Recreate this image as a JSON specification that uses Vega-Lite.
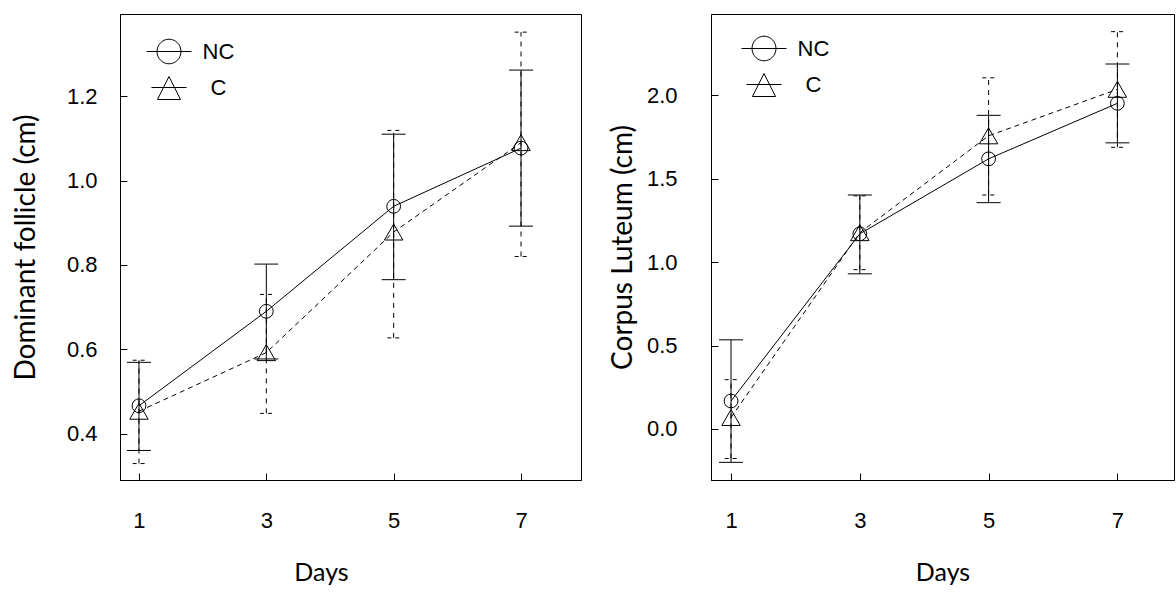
{
  "$schema": "https://vega.github.io/schema/vega-lite/v6.json",
  "background": "white",
  "padding": {"left": 11, "top": 13, "right": 0, "bottom": 0},
  "bounds": "flush",
  "spacing": 130,
  "datasets": {
    "follicle": [
      {"day": 1, "group": "NC", "mean": 0.466, "lo": 0.360, "hi": 0.569},
      {"day": 3, "group": "NC", "mean": 0.690, "lo": 0.577, "hi": 0.802},
      {"day": 5, "group": "NC", "mean": 0.939, "lo": 0.765, "hi": 1.110},
      {"day": 7, "group": "NC", "mean": 1.077, "lo": 0.892, "hi": 1.262},
      {"day": 1, "group": "C", "mean": 0.453, "lo": 0.329, "hi": 0.574},
      {"day": 3, "group": "C", "mean": 0.592, "lo": 0.448, "hi": 0.730},
      {"day": 5, "group": "C", "mean": 0.878, "lo": 0.627, "hi": 1.119},
      {"day": 7, "group": "C", "mean": 1.090, "lo": 0.820, "hi": 1.352}
    ],
    "luteum": [
      {"day": 1, "group": "NC", "mean": 0.167, "lo": -0.201, "hi": 0.534},
      {"day": 3, "group": "NC", "mean": 1.170, "lo": 0.930, "hi": 1.403},
      {"day": 5, "group": "NC", "mean": 1.620, "lo": 1.357, "hi": 1.881},
      {"day": 7, "group": "NC", "mean": 1.953, "lo": 1.716, "hi": 2.189},
      {"day": 1, "group": "C", "mean": 0.068, "lo": -0.178, "hi": 0.295},
      {"day": 3, "group": "C", "mean": 1.177, "lo": 0.955, "hi": 1.398},
      {"day": 5, "group": "C", "mean": 1.758, "lo": 1.403, "hi": 2.106},
      {"day": 7, "group": "C", "mean": 2.037, "lo": 1.689, "hi": 2.383}
    ]
  },
  "config": {
    "view": {"stroke": "black", "strokeWidth": 1},
    "axis": {
      "grid": false,
      "domainColor": "black",
      "tickColor": "black",
      "tickSize": -7,
      "labelFont": "Liberation Sans",
      "labelFontSize": 22,
      "labelColor": "black",
      "titleFont": "Lato",
      "titleFontSize": 28,
      "titleFontWeight": "normal",
      "titleColor": "black"
    },
    "legend": {
      "padding": 0,
      "symbolSize": 900,
      "symbolStrokeWidth": 1,
      "symbolStrokeColor": "black",
      "symbolFillColor": "transparent",
      "labelFont": "Liberation Sans",
      "labelFontSize": 22,
      "labelColor": "black",
      "labelAlign": "center",
      "labelOffset": 34,
      "rowPadding": 6
    }
  },
  "hconcat": [
    {
      "width": 461,
      "height": 466,
      "data": {"name": "follicle"},
      "layer": [
        {
          "transform": [{"filter": "datum.group === 'NC'"}],
          "mark": {"type": "line", "color": "black", "strokeWidth": 1},
          "encoding": {
            "x": {"field": "day", "type": "quantitative", "scale": {"domain": [0.702, 7.942], "nice": false, "zero": false},
              "axis": {"values": [1, 3, 5, 7], "format": "d", "title": "Days", "titleFontSize": 25, "titleX": 201, "titleAlign": "center", "labelPadding": 37, "titlePadding": 29, "labelAngle": 0}},
            "y": {"field": "mean", "type": "quantitative", "scale": {"domain": [0.29, 1.395], "nice": false, "zero": false},
              "axis": {"values": [0.4, 0.6, 0.8, 1.0, 1.2], "format": ".1f", "title": "Dominant follicle (cm)", "labelPadding": 30, "titlePadding": 26}}
          }
        },
        {
          "transform": [{"filter": "datum.group === 'C'"}],
          "mark": {"type": "line", "color": "black", "strokeWidth": 1, "strokeDash": [5, 4]},
          "encoding": {
            "x": {"field": "day", "type": "quantitative"},
            "y": {"field": "mean", "type": "quantitative"}
          }
        },
        {
          "transform": [{"filter": "datum.group === 'NC'"}],
          "mark": {"type": "rule", "color": "black", "strokeWidth": 1},
          "encoding": {
            "x": {"field": "day", "type": "quantitative"},
            "y": {"field": "lo", "type": "quantitative"},
            "y2": {"field": "hi"}
          }
        },
        {
          "transform": [{"filter": "datum.group === 'C'"}],
          "mark": {"type": "rule", "color": "black", "strokeWidth": 1, "strokeDash": [5, 5]},
          "encoding": {
            "x": {"field": "day", "type": "quantitative"},
            "y": {"field": "lo", "type": "quantitative"},
            "y2": {"field": "hi"}
          }
        },
        {
          "transform": [{"filter": "datum.group === 'NC'"}, {"fold": ["lo", "hi"], "as": ["end", "val"]}],
          "mark": {"type": "point", "shape": "stroke", "size": 576, "color": "black", "strokeWidth": 1, "filled": false, "opacity": 1},
          "encoding": {
            "x": {"field": "day", "type": "quantitative"},
            "y": {"field": "val", "type": "quantitative"}
          }
        },
        {
          "transform": [{"filter": "datum.group === 'C'"}, {"fold": ["lo", "hi"], "as": ["end", "val"]}],
          "mark": {"type": "point", "shape": "stroke", "size": 160, "color": "black", "strokeWidth": 1, "filled": false, "opacity": 1, "strokeDash": [4, 4]},
          "encoding": {
            "x": {"field": "day", "type": "quantitative"},
            "y": {"field": "val", "type": "quantitative"}
          }
        },
        {
          "transform": [{"filter": "datum.group === 'NC'"}],
          "mark": {"type": "point", "shape": "circle", "color": "black", "strokeWidth": 1, "filled": false, "opacity": 1, "size": 190},
          "encoding": {
            "x": {"field": "day", "type": "quantitative"},
            "y": {"field": "mean", "type": "quantitative"}
          }
        },
        {
          "transform": [{"filter": "datum.group === 'C'"}],
          "mark": {"type": "point", "shape": "triangle-up", "color": "black", "strokeWidth": 1, "filled": false, "opacity": 1, "size": 340},
          "encoding": {
            "x": {"field": "day", "type": "quantitative"},
            "y": {"field": "mean", "type": "quantitative"}
          }
        },
        {
          "mark": {"type": "point", "color": "black", "strokeWidth": 1, "filled": false, "opacity": 1, "size": 0},
          "encoding": {
            "x": {"field": "day", "type": "quantitative"},
            "y": {"field": "mean", "type": "quantitative"},
            "shape": {"field": "group", "type": "nominal",
              "scale": {"domain": ["NC", "C"], "range": ["M-1.5,0L1.5,0M0.8,0A0.8,0.82 0 1,1 -0.8,0A0.8,0.82 0 1,1 0.8,0", "M-1.17,0L1.17,0M0,-0.73L-0.77,0.8L0.77,0.8Z"]},
              "legend": {
                "title": null,
                "orient": "none",
                "legendX": 33.5, "legendY": 22,
                "symbolSize": 900
              }}
          }
        }
      ]
    },
    {
      "width": 463,
      "height": 466,
      "data": {"name": "luteum"},
      "layer": [
        {
          "transform": [{"filter": "datum.group === 'NC'"}],
          "mark": {"type": "line", "color": "black", "strokeWidth": 1},
          "encoding": {
            "x": {"field": "day", "type": "quantitative", "scale": {"domain": [0.689, 7.879], "nice": false, "zero": false},
              "axis": {"values": [1, 3, 5, 7], "format": "d", "title": "Days", "titleFontSize": 25, "labelPadding": 37, "titlePadding": 29, "labelAngle": 0}},
            "y": {"field": "mean", "type": "quantitative", "scale": {"domain": [-0.307, 2.489], "nice": false, "zero": false},
              "axis": {"values": [0.0, 0.5, 1.0, 1.5, 2.0], "format": ".1f", "title": "Corpus Luteum (cm)", "labelPadding": 41, "titlePadding": 9}}
          }
        },
        {
          "transform": [{"filter": "datum.group === 'C'"}],
          "mark": {"type": "line", "color": "black", "strokeWidth": 1, "strokeDash": [5, 4]},
          "encoding": {
            "x": {"field": "day", "type": "quantitative"},
            "y": {"field": "mean", "type": "quantitative"}
          }
        },
        {
          "transform": [{"filter": "datum.group === 'NC'"}],
          "mark": {"type": "rule", "color": "black", "strokeWidth": 1},
          "encoding": {
            "x": {"field": "day", "type": "quantitative"},
            "y": {"field": "lo", "type": "quantitative"},
            "y2": {"field": "hi"}
          }
        },
        {
          "transform": [{"filter": "datum.group === 'C'"}],
          "mark": {"type": "rule", "color": "black", "strokeWidth": 1, "strokeDash": [5, 5]},
          "encoding": {
            "x": {"field": "day", "type": "quantitative"},
            "y": {"field": "lo", "type": "quantitative"},
            "y2": {"field": "hi"}
          }
        },
        {
          "transform": [{"filter": "datum.group === 'NC'"}, {"fold": ["lo", "hi"], "as": ["end", "val"]}],
          "mark": {"type": "point", "shape": "stroke", "size": 576, "color": "black", "strokeWidth": 1, "filled": false, "opacity": 1},
          "encoding": {
            "x": {"field": "day", "type": "quantitative"},
            "y": {"field": "val", "type": "quantitative"}
          }
        },
        {
          "transform": [{"filter": "datum.group === 'C'"}, {"fold": ["lo", "hi"], "as": ["end", "val"]}],
          "mark": {"type": "point", "shape": "stroke", "size": 160, "color": "black", "strokeWidth": 1, "filled": false, "opacity": 1, "strokeDash": [4, 4]},
          "encoding": {
            "x": {"field": "day", "type": "quantitative"},
            "y": {"field": "val", "type": "quantitative"}
          }
        },
        {
          "transform": [{"filter": "datum.group === 'NC'"}],
          "mark": {"type": "point", "shape": "circle", "color": "black", "strokeWidth": 1, "filled": false, "opacity": 1, "size": 190},
          "encoding": {
            "x": {"field": "day", "type": "quantitative"},
            "y": {"field": "mean", "type": "quantitative"}
          }
        },
        {
          "transform": [{"filter": "datum.group === 'C'"}],
          "mark": {"type": "point", "shape": "triangle-up", "color": "black", "strokeWidth": 1, "filled": false, "opacity": 1, "size": 340},
          "encoding": {
            "x": {"field": "day", "type": "quantitative"},
            "y": {"field": "mean", "type": "quantitative"}
          }
        },
        {
          "mark": {"type": "point", "color": "black", "strokeWidth": 1, "filled": false, "opacity": 1, "size": 0},
          "encoding": {
            "x": {"field": "day", "type": "quantitative"},
            "y": {"field": "mean", "type": "quantitative"},
            "shape": {"field": "group", "type": "nominal",
              "scale": {"domain": ["NC", "C"], "range": ["M-1.5,0L1.5,0M0.8,0A0.8,0.82 0 1,1 -0.8,0A0.8,0.82 0 1,1 0.8,0", "M-1.17,0L1.17,0M0,-0.73L-0.77,0.8L0.77,0.8Z"]},
              "legend": {
                "title": null,
                "orient": "none",
                "legendX": 37.5, "legendY": 19,
                "symbolSize": 900
              }}
          }
        }
      ]
    }
  ],
  "resolve": {"scale": {"shape": "independent"}, "legend": {"shape": "independent"}}
}
